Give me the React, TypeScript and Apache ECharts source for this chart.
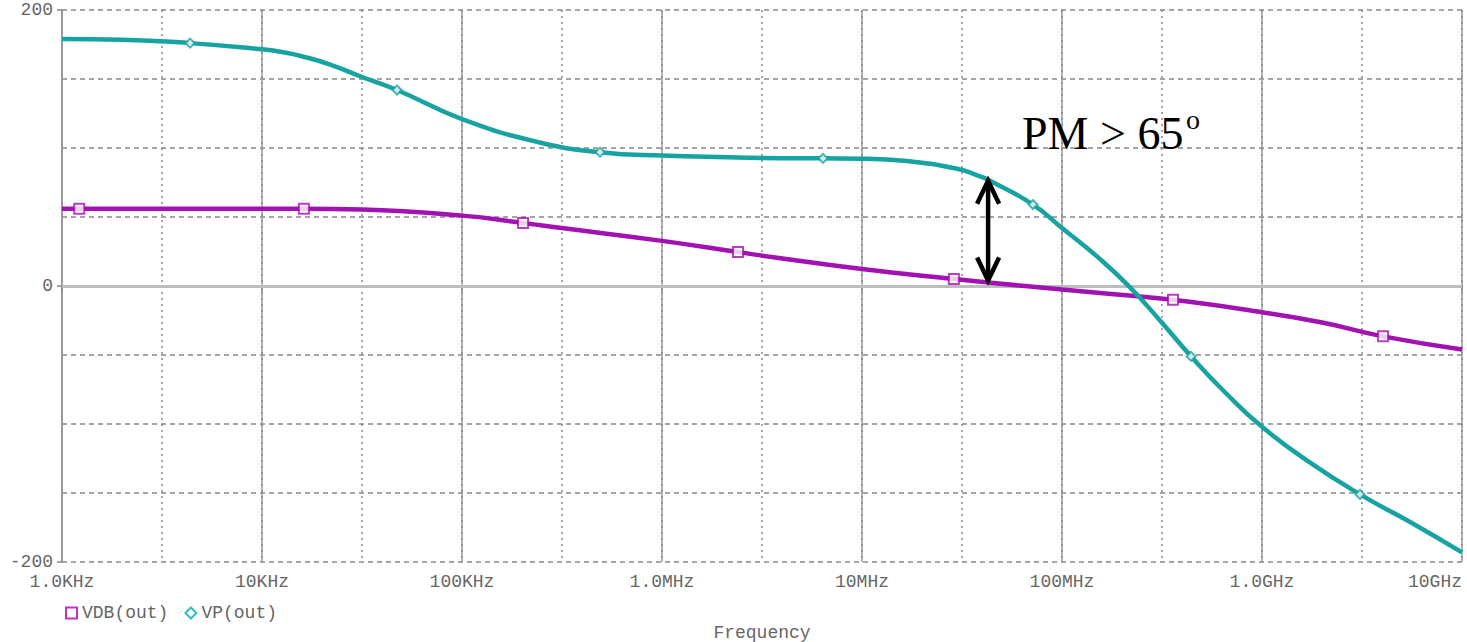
import React, { useEffect, useRef } from "react";
import * as echarts from "echarts";

// ---- Data (frequency in Hz) ----
const vpFreqHz = [1e3, 2.0e3, 4.37e3, 1e4, 1.26e4, 1.58e4, 2.19e4, 3.09e4, 4.73e4, 1e5, 2.45e5, 4.9e5, 1e6, 3.16e6, 6.38e6, 1e7, 1.68e7, 2.99e7, 3.89e7, 4.27e7, 7.16e7, 1e8, 1.55e8, 2.19e8, 3.09e8, 4.42e8, 6.53e8, 1e9, 1.74e9, 3.09e9, 5.5e9, 1e10];
const vpPhaseDeg = [179, 178.5, 176, 171.5, 169.5, 166.5, 160.5, 152, 142, 121, 104, 97, 94.5, 92.8, 92.5, 92.3, 90.5, 85, 79.5, 77, 59, 42, 19.5, -1, -25, -51, -77, -102, -128, -151, -171, -193];

const vdbFreqHz = [1e3, 1.22e3, 3.16e3, 1.62e4, 3.16e4, 1e5, 2.02e5, 3.16e5, 1e6, 2.4e6, 3.16e6, 1e7, 2.88e7, 4.27e7, 1e8, 1.55e8, 3.59e8, 1e9, 2e9, 4.03e9, 1e10];
const vdbGainDb = [56, 56, 56, 56, 55.4, 51, 45.7, 42, 32.7, 24.6, 22, 12.3, 5, 2.5, -2.5, -5, -10, -19, -26.5, -36.5, -46];

const vpMarkerFreqHz = [4.37e3, 4.73e4, 4.9e5, 6.38e6, 7.16e7, 4.42e8, 3.09e9];
const vpMarkerDeg = [176, 142, 97, 92.5, 59, -51, -151];
const vdbMarkerFreqHz = [1.22e3, 1.62e4, 2.02e5, 2.4e6, 2.88e7, 3.59e8, 4.03e9];
const vdbMarkerDb = [56, 56, 45.7, 24.6, 5, -10, -36.5];

const xTickExp = [3, 4, 5, 6, 7, 8, 9, 10];
const xTickLabels = ["1.0KHz", "10KHz", "100KHz", "1.0MHz", "10MHz", "100MHz", "1.0GHz", "10GHz"];
const yTickValues = [-200, 0, 200];
const yTickLabels = ["-200", "0", "200"];

// Phase-margin annotation
const pmFreqHz = 4.27e7;
const pmTopDeg = 77;
const pmBottomDb = 2.5;
const pmText = "PM > 65";

const TEAL = "#17a3a1";
const PURPLE = "#a212b2";
const MONO = "'Liberation Mono', 'DejaVu Sans Mono', monospace";

const pairs = (f: number[], v: number[]) => f.map((x, i) => [Math.log10(x), v[i]]);

export default function App() {
  const ref = useRef<HTMLDivElement>(null);
  useEffect(() => {
    if (!ref.current) return;
    const chart = echarts.init(ref.current, null, { renderer: "svg" });
    const option: any = {
      animation: false,
      backgroundColor: "#ffffff",
      grid: { left: 62, right: 5, top: 10, bottom: 80, containLabel: false },
      legend: {
        left: 60,
        top: 599,
        itemWidth: 11,
        itemHeight: 11,
        itemGap: 16,
        textStyle: { fontFamily: MONO, fontSize: 18, color: "#666" },
        data: [
          { name: "VDB(out)", icon: "rect", itemStyle: { color: "#fff", borderColor: "#c030c8", borderWidth: 2 } },
          { name: "VP(out)", icon: "diamond", itemStyle: { color: "#fff", borderColor: "#30c0c0", borderWidth: 2 } },
        ],
      },
      xAxis: [
        {
          type: "value",
          min: 3,
          max: 10,
          interval: 1,
          axisLine: { show: true, lineStyle: { color: "#999", width: 2 } },
          axisTick: { show: true, length: 5, lineStyle: { color: "#888", width: 1.5 } },
          axisLabel: {
            margin: 11,
            fontFamily: MONO,
            fontSize: 18,
            color: "#666",
            showMinLabel: true,
            showMaxLabel: true,
            alignMaxLabel: "right",
            formatter: (v: number) => {
              const i = xTickExp.indexOf(Math.round(v));
              return i >= 0 ? xTickLabels[i] : "";
            },
          },
          splitLine: { show: true, lineStyle: { color: "#999", width: 1.5, type: "solid" } },
        },
        {
          type: "value",
          position: "top",
          min: 3,
          max: 10,
          interval: 0.5,
          axisLine: { show: true, lineStyle: { color: "#999", width: 2 } },
          axisTick: { show: false },
          axisLabel: { show: false },
          splitLine: { show: true, lineStyle: { color: "#888", width: 1.5, type: [2, 4] } },
        },
      ],
      yAxis: [
        {
          type: "value",
          min: -200,
          max: 200,
          interval: 50,
          axisLine: { show: true, lineStyle: { color: "#999", width: 2 } },
          axisTick: { show: false },
          axisLabel: { show: false },
          splitLine: { show: true, lineStyle: { color: "#888", width: 1.5, type: [5, 4] } },
        },
        {
          type: "value",
          position: "left",
          min: -200,
          max: 200,
          interval: 200,
          axisLine: { show: true, lineStyle: { color: "#999", width: 2 } },
          axisTick: { show: true, length: 5, lineStyle: { color: "#888", width: 1.5 } },
          axisLabel: {
            margin: 9,
            fontFamily: MONO,
            fontSize: 18,
            color: "#666",
            formatter: (v: number) => {
              const i = yTickValues.indexOf(Math.round(v));
              return i >= 0 ? yTickLabels[i] : "";
            },
          },
          splitLine: { show: false },
        },
      ],
      series: [
        {
          name: "VDB(out)",
          type: "line",
          xAxisIndex: 0,
          yAxisIndex: 0,
          smooth: 0.5,
          showSymbol: false,
          data: pairs(vdbFreqHz, vdbGainDb),
          lineStyle: { color: PURPLE, width: 4.5 },
          itemStyle: { color: PURPLE },
          z: 3,
          markLine: {
            silent: true,
            symbol: "none",
            label: { show: false },
            lineStyle: { color: "#bdbdbd", width: 3, type: "solid" },
            data: [{ yAxis: 0 }],
            z: 1,
          },
        },
        {
          name: "VP(out)",
          type: "line",
          xAxisIndex: 0,
          yAxisIndex: 0,
          smooth: 0.5,
          showSymbol: false,
          data: pairs(vpFreqHz, vpPhaseDeg),
          lineStyle: { color: TEAL, width: 4.5 },
          itemStyle: { color: TEAL },
          z: 3,
        },
        {
          name: "VDB(out)",
          type: "scatter",
          xAxisIndex: 0,
          yAxisIndex: 0,
          symbol: "rect",
          symbolSize: 10,
          data: pairs(vdbMarkerFreqHz, vdbMarkerDb),
          itemStyle: { color: "#fff", borderColor: PURPLE, borderWidth: 2 },
          z: 4,
        },
        {
          name: "VP(out)",
          type: "scatter",
          xAxisIndex: 0,
          yAxisIndex: 0,
          symbol: "diamond",
          symbolSize: 9,
          data: pairs(vpMarkerFreqHz, vpMarkerDeg),
          itemStyle: { color: "#fff", borderColor: TEAL, borderWidth: 2 },
          z: 4,
        },
      ],
    };
    chart.setOption(option);

    const lx = Math.log10(pmFreqHz);
    const top = chart.convertToPixel({ xAxisIndex: 0, yAxisIndex: 0 }, [lx, pmTopDeg]) as number[];
    const bot = chart.convertToPixel({ xAxisIndex: 0, yAxisIndex: 0 }, [lx, pmBottomDb]) as number[];
    const ax = top[0];
    const ty = top[1] + 1;
    const by = bot[1] - 2;
    const arrowStyle = { stroke: "#000", lineWidth: 4.5, fill: "none", lineJoin: "miter", lineCap: "butt" };
    chart.setOption({
      graphic: [
        { type: "line", shape: { x1: ax, y1: ty + 3, x2: ax, y2: by - 3 }, style: arrowStyle, z: 100 },
        { type: "polyline", shape: { points: [[ax - 11, ty + 23], [ax, ty], [ax + 11, ty + 23]] }, style: arrowStyle, z: 100 },
        { type: "polyline", shape: { points: [[ax - 11, by - 23], [ax, by], [ax + 11, by - 23]] }, style: arrowStyle, z: 100 },
        {
          type: "text",
          x: 1022,
          y: 133,
          style: { text: pmText, font: "46px 'Liberation Serif', 'Times New Roman', serif", fill: "#000", verticalAlign: "middle", align: "left" },
          z: 100,
        },
        {
          type: "text",
          x: 1186,
          y: 119,
          style: { text: "o", font: "28px 'Liberation Serif', 'Times New Roman', serif", fill: "#000", verticalAlign: "middle", align: "left" },
          z: 100,
        },
        {
          type: "text",
          x: 762,
          y: 624,
          style: { text: "Frequency", font: `18px ${MONO}`, fill: "#666", verticalAlign: "top", align: "center" },
          z: 100,
        },
      ],
    });

    return () => chart.dispose();
  }, []);

  return (
    <div
      ref={ref}
      style={{ position: "fixed", left: 0, top: 0, width: 1467, height: 642, background: "#fff" }}
    />
  );
}
